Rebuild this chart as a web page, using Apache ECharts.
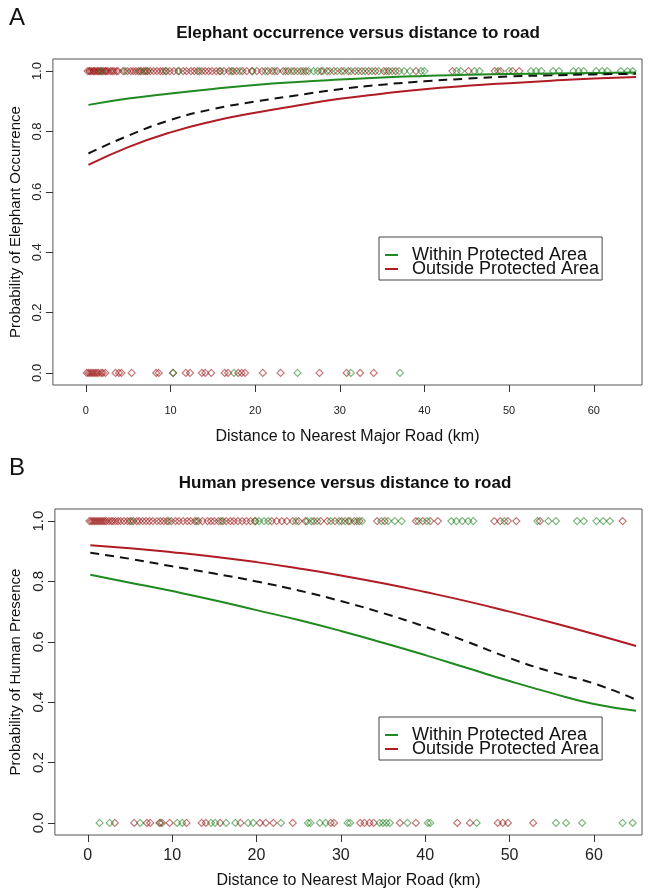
<!DOCTYPE html>
<html>
<head>
<meta charset="utf-8">
<script src="https://cdn.jsdelivr.net/npm/echarts@6/dist/echarts.min.js"></script>
<style>html,body{margin:0;padding:0;background:#fff}#c{width:650px;height:892px}</style>
</head>
<body>
<div id="c"></div>
<script>
// ---- tick labels ----
const xTicks = [0, 10, 20, 30, 40, 50, 60];
const yTicks = [0, 0.2, 0.4, 0.6, 0.8, 1.0];

// ---- fitted curves (distance km) ----
const curveX = [0.3, 5, 10, 15, 20, 25, 30, 35, 40, 45, 50, 55, 60, 65];
// Panel A: elephant occurrence
const eleWithin  = [0.888, 0.909, 0.926, 0.941, 0.954, 0.964, 0.972, 0.979, 0.984, 0.988, 0.990, 0.992, 0.994, 0.995];
const eleOutside = [0.689, 0.748, 0.797, 0.834, 0.862, 0.886, 0.908, 0.925, 0.940, 0.951, 0.960, 0.968, 0.975, 0.980];
const eleAll     = [0.727, 0.786, 0.838, 0.874, 0.899, 0.920, 0.940, 0.955, 0.966, 0.975, 0.982, 0.986, 0.989, 0.991];
// Panel B: human presence
const humWithin  = [0.822, 0.796, 0.768, 0.738, 0.705, 0.672, 0.636, 0.597, 0.556, 0.513, 0.470, 0.430, 0.394, 0.372];
const humOutside = [0.920, 0.910, 0.897, 0.882, 0.864, 0.843, 0.820, 0.794, 0.765, 0.734, 0.700, 0.664, 0.626, 0.586];
const humAll     = [0.895, 0.875, 0.850, 0.826, 0.800, 0.770, 0.735, 0.695, 0.650, 0.600, 0.546, 0.500, 0.462, 0.408];

// ---- observations (distance km) ----
const elePresOutside = [0.2,0.4,0.5,0.7,0.9,1.0,1.2,1.4,1.5,1.7,1.9,2.1,2.3,2.4,2.6,2.9,3.1,3.3,3.6,3.8,4.4,4.9,5.3,5.6,5.9,6.2,6.5,6.8,7.0,7.3,7.6,8.0,8.4,8.8,9.1,9.5,9.9,10.4,10.9,11.5,11.9,12.4,12.8,13.2,13.7,14.1,14.5,14.9,15.4,15.8,16.3,16.9,17.4,17.8,18.5,19.0,19.6,20.2,20.8,21.5,22.0,22.6,23.3,23.9,24.6,25.4,26.0,27.8,28.5,29.3,30.2,31.0,31.8,32.6,33.4,34.2,35.2,35.8,36.6,39.0,43.3,45.2,48.3,49.0,50.4,51.2];
const elePresWithin = [1.8,4.6,6.4,7.2,9.4,11.0,13.4,15.9,17.2,18.2,19.7,21.2,22.3,23.6,24.3,25.0,25.7,26.3,26.9,27.4,28.0,28.8,29.7,30.5,31.3,32.2,33.0,33.8,34.6,35.5,36.2,37.0,37.6,38.3,39.6,40.0,43.8,44.3,45.9,46.5,48.7,50.0,52.6,53.2,53.8,55.2,55.9,57.6,58.2,58.8,60.3,61.0,61.6,63.2,64.0,64.6];
const eleAbsOutside = [0.1,0.3,0.5,0.7,0.9,1.1,1.3,1.5,1.8,2.0,2.3,3.5,3.9,4.2,5.4,8.3,8.6,10.3,11.8,12.3,13.7,14.1,14.8,16.4,16.8,18.0,18.4,18.8,20.9,23.0,27.6,30.8,32.4,34.0];
const eleAbsWithin = [10.3,17.5,25.0,31.3,37.1];

const humPresOutside = [0.2,0.4,0.6,0.8,1.0,1.2,1.4,1.6,1.8,2.0,2.2,2.5,2.8,3.0,3.3,3.6,3.9,4.3,4.7,5.0,5.4,5.8,6.1,6.5,6.9,7.3,7.7,8.2,8.6,9.0,9.4,9.9,10.4,10.8,11.3,11.8,12.2,12.7,13.1,13.6,14.2,14.6,15.0,15.5,16.0,16.4,16.9,17.3,17.8,18.3,18.8,19.3,19.8,21.8,22.4,23.0,23.6,24.3,25.0,25.8,26.8,27.6,28.4,29.3,30.1,30.9,31.6,32.2,34.3,35.2,38.9,39.7,40.6,41.5,48.2,48.9,49.8,50.8,53.6,63.4];
const humPresWithin = [5.2,9.6,12.9,15.8,19.9,20.3,20.9,21.4,24.7,26.0,26.5,27.2,28.8,29.8,30.5,31.1,31.9,32.5,34.8,35.6,36.4,37.2,39.2,40.2,43.1,43.7,44.4,45.1,45.7,49.4,53.3,54.6,55.5,58.0,58.8,60.3,61.1,61.9];
const humAbsOutside = [3.2,5.5,7.0,7.4,8.5,8.8,9.7,11.7,13.5,14.0,15.7,18.1,20.4,21.1,22.0,24.3,28.8,29.2,32.3,32.8,33.4,33.9,37.0,38.9,43.8,45.3,48.6,49.2,49.8,52.8];
const humAbsWithin = [1.4,2.6,6.2,8.6,10.6,11.2,14.6,15.1,16.4,17.5,19.0,19.6,22.9,26.1,26.4,27.5,28.2,30.8,31.1,34.6,35.0,35.4,35.8,37.9,40.3,40.6,46.1,55.5,56.7,58.6,63.4,64.6];

// ---- styling ----
const GREEN = '#1f8a1f', RED = '#b01c24';
const PT_GREEN = 'rgba(25,125,25,0.7)', PT_RED = 'rgba(150,10,10,0.7)';
const FONT = '"Liberation Sans", Arial, sans-serif';

const pair = (xs, ys) => xs.map((x, i) => [x, ys[i]]);
const at = (xs, y) => xs.map(x => [x, y]);

function lineSeries(name, ys, color, idx, dashed) {
  return {
    name: name, type: 'line', xAxisIndex: idx, yAxisIndex: idx,
    data: pair(curveX, ys), smooth: true, showSymbol: false, symbol: 'none',
    lineStyle: { color: color, width: 2, type: dashed ? [9, 6] : 'solid' },
    itemStyle: { color: color }, z: 3, silent: true
  };
}
function ptSeries(xs, y, color, idx) {
  return {
    type: 'scatter', xAxisIndex: idx, yAxisIndex: idx, data: at(xs, y),
    symbol: 'diamond', symbolSize: 7,
    itemStyle: { color: 'rgba(0,0,0,0)', borderColor: color, borderWidth: 1.2 },
    z: 2, silent: true
  };
}

const grids = [
  { left: 50, top: 59, width: 592, height: 326, show: true, borderColor: '#555', borderWidth: 1 },
  { left: 50, top: 509, width: 592, height: 326, show: true, borderColor: '#555', borderWidth: 1 }
];
function xAxis(idx, fs, margin, nameGap) {
  return {
    type: 'value', gridIndex: idx, min: -3.9, max: 65.7,
    axisLine: { show: false, onZero: false },
    axisTick: { show: true, customValues: xTicks, length: 7, lineStyle: { color: '#333' } },
    axisLabel: { customValues: xTicks, fontSize: fs, color: '#222', margin: margin, fontFamily: FONT },
    splitLine: { show: false },
    name: 'Distance to Nearest Major Road (km)', nameLocation: 'middle', nameGap: nameGap,
    nameTextStyle: { fontSize: 16, color: '#111', fontFamily: FONT }
  };
}
function yAxis(idx, fs, name) {
  return {
    type: 'value', gridIndex: idx, min: -0.04, max: 1.04,
    axisLine: { show: false, onZero: false },
    axisTick: { show: true, customValues: yTicks, length: 7, lineStyle: { color: '#333' } },
    axisLabel: { customValues: yTicks, rotate: 90, fontSize: fs, color: '#222', margin: 9, fontFamily: FONT,
      formatter: v => v.toFixed(1) },
    splitLine: { show: false },
    name: name, nameLocation: 'middle', nameRotate: 90, nameGap: 29,
    nameTextStyle: { fontSize: 15, color: '#111', fontFamily: FONT }
  };
}
function legend(top) {
  return {
    left: 379, top: top, orient: 'vertical', data: ['Within Protected Area', 'Outside Protected Area'],
    icon: 'rect', itemWidth: 13, itemHeight: 2, itemGap: -4,
    padding: [9, 3, 2, 6], borderColor: '#444', borderWidth: 1, backgroundColor: '#fff',
    textStyle: { fontSize: 18, lineHeight: 13, color: '#111', fontFamily: FONT, padding: [0, 0, 0, 9] },
    selectedMode: false
  };
}

const option = {
  animation: false,
  backgroundColor: '#fff',
  grid: grids,
  xAxis: [xAxis(0, 11, 20, 44), xAxis(1, 16, 13, 38)],
  yAxis: [yAxis(0, 13, 'Probability of Elephant Occurrence'), yAxis(1, 15, 'Probability of Human Presence')],
  legend: [legend(237), legend(717)],
  graphic: [
    { type: 'text', left: 9, top: 6, style: { text: 'A', fontSize: 24, fill: '#111', fontFamily: FONT } },
    { type: 'text', left: 9, top: 456, style: { text: 'B', fontSize: 24, fill: '#111', fontFamily: FONT } },
    { type: 'text', x: 358, y: 33, style: { text: 'Elephant occurrence versus distance to road', fontSize: 17, fontWeight: 'bold', fill: '#111', fontFamily: FONT, align: 'center', verticalAlign: 'middle' } },
    { type: 'text', x: 345, y: 483, style: { text: 'Human presence versus distance to road', fontSize: 17, fontWeight: 'bold', fill: '#111', fontFamily: FONT, align: 'center', verticalAlign: 'middle' } }
  ],
  series: [
    ptSeries(elePresOutside, 1, PT_RED, 0),
    ptSeries(elePresWithin, 1, PT_GREEN, 0),
    ptSeries(eleAbsOutside, 0, PT_RED, 0),
    ptSeries(eleAbsWithin, 0, PT_GREEN, 0),
    lineSeries('Within Protected Area', eleWithin, GREEN, 0, false),
    lineSeries('Outside Protected Area', eleOutside, RED, 0, false),
    lineSeries('All', eleAll, '#111', 0, true),
    ptSeries(humPresOutside, 1, PT_RED, 1),
    ptSeries(humPresWithin, 1, PT_GREEN, 1),
    ptSeries(humAbsOutside, 0, PT_RED, 1),
    ptSeries(humAbsWithin, 0, PT_GREEN, 1),
    lineSeries('Within Protected Area', humWithin, GREEN, 1, false),
    lineSeries('Outside Protected Area', humOutside, RED, 1, false),
    lineSeries('All', humAll, '#111', 1, true)
  ]
};
const chart = echarts.init(document.getElementById('c'), null, { renderer: 'canvas' });
chart.setOption(option);
</script>
</body>
</html>
